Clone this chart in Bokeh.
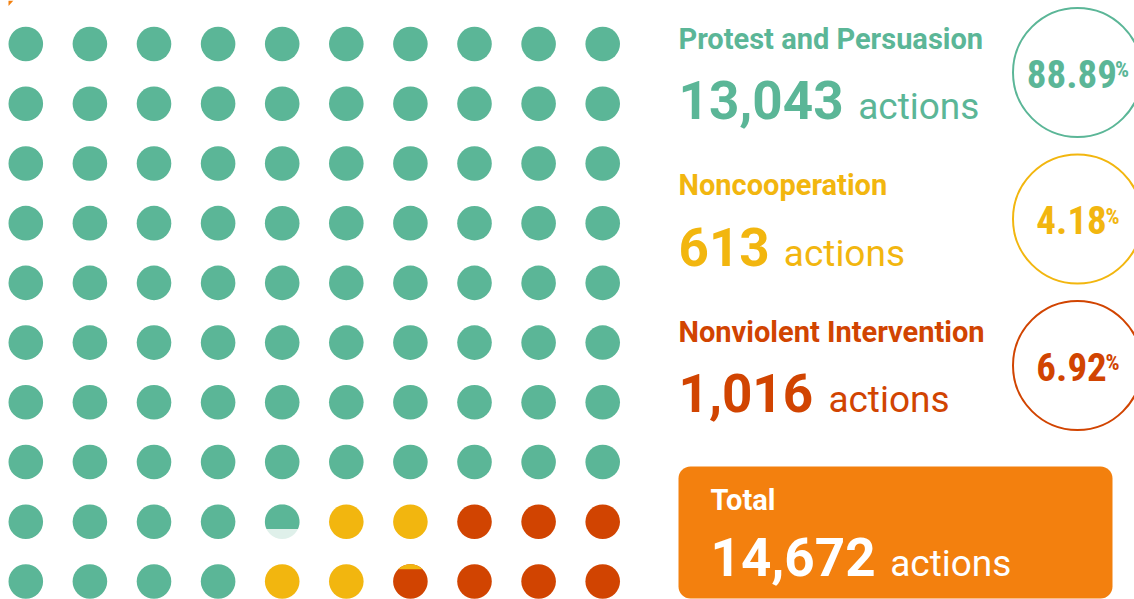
import math
from bokeh.plotting import figure
from bokeh.models import Range1d
from bokeh.core.properties import value
from bokeh.embed import file_html
from bokeh.resources import INLINE

# ---------------- data ----------------
categories = ["Protest and Persuasion", "Noncooperation", "Nonviolent Intervention"]
actions = [13043, 613, 1016]
percents = [88.89, 4.18, 6.92]
total_label = "Total"
total_actions = 14672
unit_word = "actions"

# ---------------- style ----------------
COLORS = ["#5BB697", "#F2B60F", "#D14401"]
PALE = "#DFF0EA"
UNDER = [PALE, COLORS[2], None]   # colour under a partially filled dot
BOX = "#F3800E"
FONT = "Roboto"
PFONT = "Roboto Condensed"

W, H = 1134, 599
p = figure(width=W, height=H, x_range=Range1d(0, W), y_range=Range1d(H, 0),
           output_backend="svg", toolbar_location=None, min_border=0,
           x_axis_type=None, y_axis_type=None)
p.grid.visible = False
p.outline_line_color = None
p.background_fill_color = "white"
p.border_fill_color = "white"

# small corner decoration
p.patch([8, 13, 8], [0, 0, 5.5], fill_color=BOX, line_color=None)

# ---------------- waffle ----------------
GX0, GDX, GY0, GDY, R = 25.3, 64.1, 43.5, 59.72, 17.3
CAP_SCALE = 0.8


def cell_xy(k):
    band, w = divmod(k, 20)
    col, sub = divmod(w, 2)
    row = band * 2 + sub
    return GX0 + col * GDX, GY0 + row * GDY


fx, fy, fc = [], [], []
partials = []
k = 0
for i, pct in enumerate(percents):
    n_full = int(pct)
    frac = pct - n_full
    for _ in range(n_full):
        if k < 100:
            x, y = cell_xy(k)
            fx.append(x); fy.append(y); fc.append(COLORS[i])
        k += 1
    if frac > 0 and k < 100:
        x, y = cell_xy(k)
        partials.append((x, y, COLORS[i], frac, UNDER[i]))
        k += 1

p.circle(fx, fy, radius=R, fill_color=fc, line_color=None)

px, py, pc = [], [], []
cap_xs, cap_ys, cap_c = [], [], []
for (x, y, top_c, frac, under_c) in partials:
    px.append(x); py.append(y); pc.append(under_c)
    h = frac * CAP_SCALE * 2 * R
    d = -R + h  # cut offset from centre (negative = above centre)
    w = math.sqrt(max(R * R - d * d, 0))
    t1 = math.atan2(d, w)
    t2 = math.atan2(d, -w)
    if t2 > 0:
        t2 -= 2 * math.pi
    n = 60
    ts = [t2 + (t1 - t2) * j / n for j in range(n + 1)]
    cap_xs.append([x + R * math.cos(t) for t in ts])
    cap_ys.append([y + R * math.sin(t) for t in ts])
    cap_c.append(top_c)

p.circle(px, py, radius=R, fill_color=pc, line_color=None)
p.patches(cap_xs, cap_ys, fill_color=cap_c, line_color=None)

# ---------------- right panel ----------------
LX = 678
STEP = 146.5
LABEL_Y0, NUM_Y0, CIRC_Y0 = 50, 121, 72
CX, CR = 1077, 64.5
LABEL_FS, NUM_FS, UNIT_FS = 29, 53, 37
PCT_FS, PCTS_FS = 39, 22
PCT_GAP = 4
GAP = 16
BASE_SHIFT = 0.4   # em shift so glyphs sit on the wanted baseline


def yb(y, fs):
    return y - BASE_SHIFT * fs


def bold_num_width(s, fs):
    w = 0
    for ch in s:
        w += 0.5615 if ch.isdigit() else 0.28
    return w * fs


def narrow_width(s, fs):
    w = 0
    for ch in s:
        w += 0.49 if ch.isdigit() else 0.2
    return w * fs


def txt(x, y, s, fs, color, bold=False, font=FONT):
    p.text([x], [yb(y, fs)], text=[s], text_font=value(font),
           text_font_style="bold" if bold else "normal",
           text_font_size=f"{fs}px", text_color=color, text_baseline="alphabetic")


for i, name in enumerate(categories):
    c = COLORS[i]
    ly = LABEL_Y0 + i * STEP
    ny = NUM_Y0 + i * STEP
    cy = CIRC_Y0 + i * STEP
    txt(LX, ly, name, LABEL_FS, c, bold=True)
    ns = f"{actions[i]:,}"
    txt(LX, ny, ns, NUM_FS, c, bold=True)
    txt(LX + bold_num_width(ns, NUM_FS) + GAP, ny, unit_word, UNIT_FS, c)
    # ring
    p.circle([CX], [cy], radius=CR, fill_color=None, line_color=c, line_width=2)
    ps = f"{percents[i]:.2f}"
    nw = narrow_width(ps, PCT_FS)
    pw = 0.6 * PCTS_FS
    left = CX - (nw + PCT_GAP + pw) / 2
    by = cy + 17
    txt(left, by, ps, PCT_FS, c, bold=True, font=PFONT)
    txt(left + nw + PCT_GAP, by - 11, "%", PCTS_FS, c, bold=True, font=PFONT)

# ---------------- total box ----------------
p.quad(left=[678], right=[1112], top=[466], bottom=[598], fill_color=BOX, line_color=None,
       border_radius=12)
txt(710, 511, total_label, LABEL_FS, "white", bold=True)
ts = f"{total_actions:,}"
txt(710, 578, ts, NUM_FS, "white", bold=True)
txt(710 + bold_num_width(ts, NUM_FS) + GAP, 578, unit_word, UNIT_FS, "white")

open("out.html", "w").write(file_html(p, INLINE))
